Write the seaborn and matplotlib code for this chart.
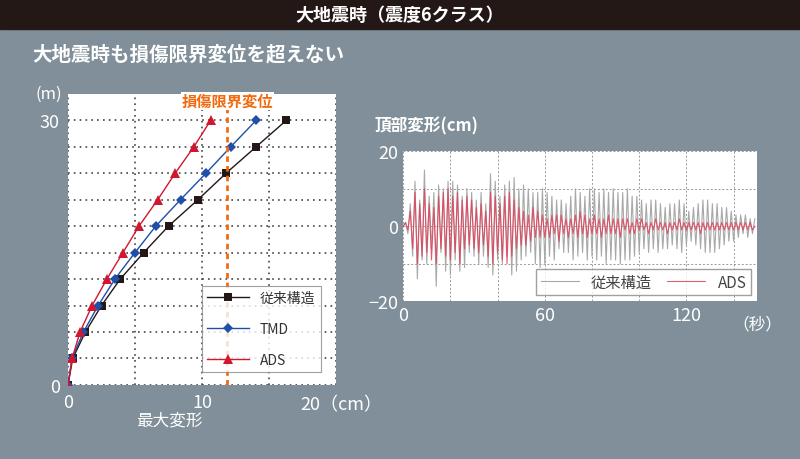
import numpy as np
import pandas as pd
import seaborn as sns
import matplotlib.pyplot as plt

plt.rcParams['font.family'] = 'Noto Sans CJK JP'

# left panel: height (m) vs max displacement (cm)
heights = [0, 3, 6, 9, 12, 15, 18, 21, 24, 27, 30]
disp_conv = [0, 0.35, 1.3, 2.5, 3.9, 5.65, 7.5, 9.7, 11.8, 14.05, 16.3]
disp_tmd = [0, 0.3, 1.15, 2.25, 3.5, 5.0, 6.55, 8.4, 10.3, 12.15, 14.05]
disp_ads = [0, 0.3, 0.9, 1.8, 2.9, 4.1, 5.3, 6.7, 8.0, 9.4, 10.65]
limit_disp = 11.9

# right panel: top displacement (cm), one sample per second
top_conv = [0, 1, -2, 6, -8, 12, -14, 7, -9, 15,
            -10, 8, -6, 9, -16, 11, -7, 10, -12, 12,
            -13, 12, -9, 11, -12, 8, -11, 10, -7, 9,
            -8, 7, -10, 9, -8, 6, -11, 14, -13, 12,
            -9, 8, -10, 11, -8, 12, -13, 13, -12, 10,
            -9, 11, -8, 10, -7, 9, -10, 9, -11, 10,
            -10, 9, -8, 8, -9, 7, -6, 7, -7, 6,
            -7, 8, -9, 10, -8, 9, -7, 8, -9, 10,
            -8, 10, -9, 9, -8, 10, -10, 9, -9, 10,
            -9, 9, -10, 9, -9, 10, -9, 8, -8, 8,
            -7, 7, -6, 6, -7, 7, -6, 7, -7, 6,
            -6, 5, -6, 6, -5, 6, -6, 7, -7, 6,
            -5, 4, -4, 5, -5, 6, -6, 7, -7, 7,
            -7, 6, -7, 6, -6, 5, -5, 5, -4, 4,
            -4, 3, -3, 3, -2, 3, -3, 2, -2, 2]
top_ads = [0, 1, -1, 4, -6, 9, -10, 6, -8, 10,
           -7, 6, -9, 5, -10, 8, -6, 9, -8, 10,
           -9, 8, -7, 9, -10, 7, -6, 8, -5, 7,
           -6, 5, -7, 6, -5, 4, -8, 9, -10, 8,
           -7, 6, -9, 8, -10, 9, -8, 7, -6, 5,
           -5, 4, -5, 3, -4, 5, -3, 4, -3, 3,
           -3, 2, -3, 3, -2, 3, -4, 3, -2, 2,
           -3, 2, -2, 3, -3, 4, -2, 3, -3, 2,
           -2, 3, -2, 2, -3, 2, -2, 3, -2, 2,
           -2, 2, -3, 2, -1, 2, -2, 1, -2, 2,
           -1, 2, -1, 1, -2, 1, -1, 2, -1, 1,
           -1, 1, -2, 1, -1, 1, -1, 2, -1, 1,
           -1, 1, -1, 1, -1, 1, -2, 1, -1, 1,
           -1, 1, -1, 1, -1, 1, -1, 1, -1, 1,
           -1, 1, -1, 1, -1, 1, -1, 1, -1, 0]
seconds = list(range(len(top_conv)))

bg = '#808f99'
fig = plt.figure(figsize=(8, 4.6), dpi=100, facecolor=bg)

# header bar
fig.patches.append(plt.Rectangle((0, 1 - 30/460), 1, 30/460, transform=fig.transFigure,
                                 color='#231815', zorder=0))
fig.text(0.5, 1 - 15/460, '大地震時（震度6クラス）', color='white', fontsize=13,
         fontweight='bold', ha='center', va='center')
fig.text(0.04, 1 - 55/460, '大地震時も損傷限界変位を超えない', color='white',
         fontsize=14, fontweight='bold', va='center')

# left chart
ax = fig.add_axes([0.085, 0.161, 0.335, 0.633])
ax.set_facecolor('white')
sns.lineplot(x=disp_conv, y=heights, ax=ax, color='#231815', marker='s', markersize=6,
             lw=1, markeredgewidth=0, label='従来構造', sort=False)
sns.lineplot(x=disp_tmd, y=heights, ax=ax, color='#1f4fa8', marker='D', markersize=5,
             lw=1, markeredgewidth=0, label='TMD', sort=False)
sns.lineplot(x=disp_ads, y=heights, ax=ax, color='#d0172f', marker='^', markersize=7,
             lw=1, markeredgewidth=0, label='ADS', sort=False)
ax.axvline(limit_disp, color='#f26b0f', ls=(0, (2, 1.5)), lw=2)
ax.text(limit_disp, 32.2, '損傷限界変位', color='#f26b0f', fontsize=11,
        fontweight='bold', ha='center', va='center',
        bbox=dict(facecolor='white', edgecolor='none', pad=0.5))
ax.set_xlim(0, 20)
ax.set_ylim(0, 33)
ax.set_xticks([5, 15], minor=True)
ax.set_yticks(np.arange(3, 30, 3), minor=True)
ax.set_xticks([0, 10, 20], ['0', '10', ''])
ax.set_yticks([0, 30])
ax.grid(True, which='both', color='#444444', ls=(0, (1, 2.5)), lw=1.2)
ax.tick_params(which='both', length=0, colors='white', labelsize=13, pad=6)
for s in ax.spines.values():
    s.set_visible(False)
fig.text(300/800, 1 - 405/460, '20（cm）', color='white', fontsize=13, va='center')
ax.text(-0.12, 1.0, '(m)', transform=ax.transAxes, color='white', fontsize=12, va='center')
ax.set_xlabel('最大変形', color='white', fontsize=12, labelpad=0, x=0.38)
ax.set_ylabel('')
leg = ax.legend(loc='lower right', bbox_to_anchor=(0.97, 0.02), fontsize=10,
                frameon=True, fancybox=False, edgecolor='#888888', labelspacing=1.2,
                handlelength=3)
leg.get_frame().set_linewidth(0.8)
for t in leg.get_texts():
    t.set_color('#333333')

# right chart
ax2 = fig.add_axes([0.504, 0.343, 0.4425, 0.326])
ax2.set_facecolor('white')
sns.lineplot(x=seconds, y=top_conv, ax=ax2, color='#a8a8a8', lw=0.8, label='従来構造')
sns.lineplot(x=seconds, y=top_ads, ax=ax2, color='#e0405a', lw=0.8, alpha=0.85, label='ADS')
ax2.set_xlim(0, 150)
ax2.set_ylim(-20, 20)
ax2.set_xticks([0, 60, 120])
ax2.set_xticks([20, 40, 80, 100, 140], minor=True)
ax2.set_yticks([-20, 0, 20])
ax2.set_yticks([-10, 10], minor=True)
ax2.grid(True, which='both', color='#999999', ls=(0, (2, 2)), lw=0.7)
ax2.tick_params(which='both', length=0, colors='white', labelsize=13)
for s in ax2.spines.values():
    s.set_visible(False)
ax2.text(1.0, -0.15, '（秒）', transform=ax2.transAxes, color='white', fontsize=12,
         ha='center', va='center')
ax2.text(-0.08, 1.17, '頂部変形(cm)', transform=ax2.transAxes, color='white',
         fontsize=12, fontweight='bold', va='center')
leg2 = ax2.legend(loc='lower right', ncol=2, fontsize=11, frameon=True, fancybox=False,
                  edgecolor='#888888', borderaxespad=0.4, handlelength=2.5,
                  columnspacing=1.0, borderpad=0.3)
for t in leg2.get_texts():
    t.set_color('#444444')

fig.savefig('out.png', dpi=100, facecolor=bg)
